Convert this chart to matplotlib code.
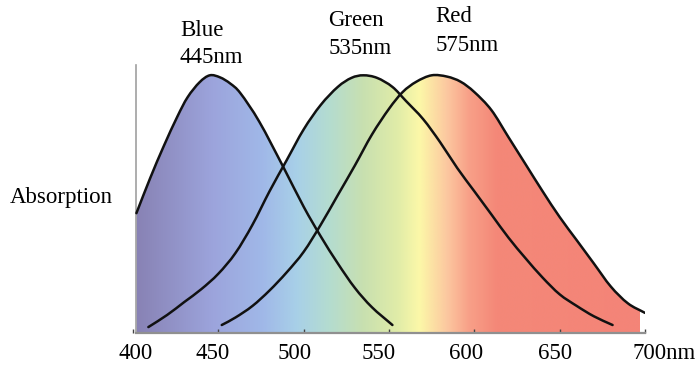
import numpy as np
import matplotlib
matplotlib.use("Agg")
import matplotlib.pyplot as plt
from matplotlib.patches import PathPatch
from matplotlib.path import Path
from matplotlib.transforms import ScaledTranslation

# cone absorption curves, wavelength in nm vs relative absorption
blue_nm = [402, 410, 418, 426, 432, 439, 445, 451, 457, 463, 474, 488, 500, 510, 520, 530, 540, 552]
blue_abs = [0.465, 0.60, 0.725, 0.84, 0.915, 0.973, 1.0, 0.992, 0.968, 0.93, 0.82, 0.645, 0.49, 0.375, 0.27, 0.175, 0.10, 0.031]

green_nm = [409, 420, 430, 440, 450, 460, 470, 480, 490, 500, 510, 520, 528, 535, 543, 552, 560, 570,
            580, 590, 600, 610, 620, 630, 640, 650, 660, 670, 681]
green_abs = [0.023, 0.07, 0.12, 0.17, 0.23, 0.31, 0.42, 0.55, 0.67, 0.79, 0.885, 0.955, 0.99, 1.0, 0.99, 0.955, 0.9, 0.83,
             0.74, 0.64, 0.55, 0.46, 0.37, 0.29, 0.215, 0.15, 0.105, 0.065, 0.031]

red_nm = [452, 460, 470, 480, 490, 500, 510, 520, 530, 540, 550, 558, 566, 575, 584, 592, 600, 610,
          620, 630, 640, 650, 660, 670, 680, 690, 700]
red_abs = [0.031, 0.06, 0.105, 0.165, 0.235, 0.315, 0.42, 0.535, 0.65, 0.77, 0.87, 0.935, 0.975, 1.0, 0.995, 0.975, 0.935, 0.865,
           0.76, 0.655, 0.55, 0.45, 0.36, 0.27, 0.18, 0.115, 0.078]

cone_names = ["Blue", "Green", "Red"]
cone_peaks = [445, 535, 575]

tick_nm = [400, 450, 500, 550, 600, 650, 700]
tick_text = ["400", "450", "500", "550", "600", "650", "700nm"]

# spectrum colours behind the curves
spec_nm = [402, 447, 476, 496, 515, 535, 555, 568, 584, 597, 613, 697]
spec_col = ["#8882b4", "#9ca4dc", "#a0b8e8", "#a8d0e8", "#b4dcd0", "#c8e0b0",
            "#e0eca8", "#fcf8a8", "#fcc8a0", "#f8a088", "#f48878", "#f48478"]


def smooth_path(xs, ys, close=False):
    # catmull-rom through the points, written as cubic bezier segments
    p = np.column_stack([xs, ys]).astype(float)
    pts = np.vstack([2 * p[0] - p[1], p, 2 * p[-1] - p[-2]])
    verts = [p[0]]
    codes = [Path.MOVETO]
    for i in range(1, len(pts) - 2):
        p0, p1, p2, p3 = pts[i - 1], pts[i], pts[i + 1], pts[i + 2]
        verts += [p1 + (p2 - p0) / 6, p2 - (p3 - p1) / 6, p2]
        codes += [Path.CURVE4] * 3
    if close:
        verts += [(xs[-1], 0), (xs[0], 0), p[0]]
        codes += [Path.LINETO, Path.LINETO, Path.CLOSEPOLY]
    return Path(verts, codes)


plt.rcParams["font.family"] = ["Liberation Serif", "DejaVu Serif"]

fig = plt.figure(figsize=(6.99, 3.71), dpi=100)
ax = fig.add_axes([133 / 699, 38 / 371, 512 / 699, 268 / 371])
ax.set_xlim(400, 700)
ax.set_ylim(0, 1.04)

grid = np.linspace(spec_nm[0], spec_nm[-1], 600)
rgb = np.array([matplotlib.colors.to_rgb(c) for c in spec_col])
strip = np.stack([np.interp(grid, spec_nm, rgb[:, k]) for k in range(3)], axis=-1)[None, :, :]

curves = [(blue_nm, blue_abs), (green_nm, green_abs), (red_nm, red_abs)]
for xs, ys in curves:
    clip = PathPatch(smooth_path(xs, ys, close=True), transform=ax.transData)
    im = ax.imshow(strip, extent=[spec_nm[0], spec_nm[-1], 0, 1.04],
                   aspect="auto", interpolation="bilinear", zorder=1)
    im.set_clip_path(clip)

for xs, ys in curves:
    ax.add_patch(PathPatch(smooth_path(xs, ys), facecolor="none", edgecolor="#111111",
                           lw=1.8, capstyle="round", zorder=3))

# peak labels above the curves
label_pos = [(427.5, 1.152, 1.048), (514.3, 1.19, 1.082), (577, 1.205, 1.093)]
for name, peak, (lx, y1, y2) in zip(cone_names, cone_peaks, label_pos):
    ax.text(lx, y1, name, fontsize=16.5, va="baseline", ha="left", clip_on=False)
    ax.text(lx, y2, f"{peak}nm", fontsize=16.5, va="baseline", ha="left", clip_on=False)

for s in ["top", "right"]:
    ax.spines[s].set_visible(False)
ax.spines["left"].set_position(("data", 402))
ax.spines["left"].set_color("#a0a0a0")
ax.spines["left"].set_linewidth(1.2)
ax.spines["bottom"].set_color("#909090")
ax.spines["bottom"].set_linewidth(1.6)
ax.spines["bottom"].set_bounds(402, 700)

ax.set_yticks([])
ax.set_xticks(tick_nm)
ax.set_xticklabels(tick_text, fontsize=16.5)
ax.tick_params(axis="x", direction="in", length=3, width=1, color="#444444", pad=7)

shifts = [3, -6, -9, -10, -8, -5, -12]
for lab, dx in zip(ax.get_xticklabels(), shifts):
    lab.set_transform(lab.get_transform() + ScaledTranslation(dx / 100, 0, fig.dpi_scale_trans))
ax.get_xticklabels()[-1].set_horizontalalignment("left")

fig.text(10 / 699, (371 - 203) / 371, "Absorption", fontsize=16.5, va="baseline", ha="left")

fig.savefig("out.png", dpi=100)
